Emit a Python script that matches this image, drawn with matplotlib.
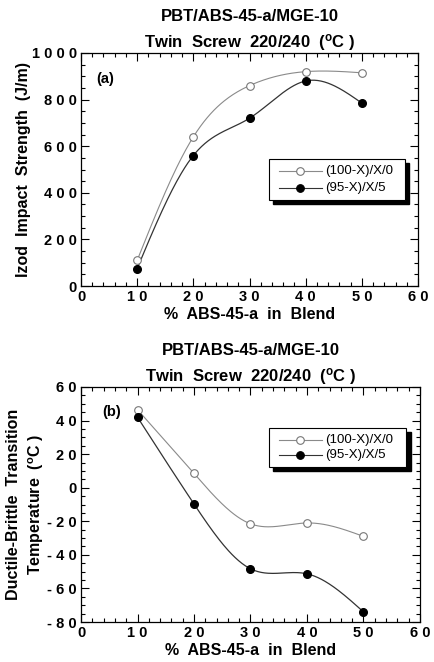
import matplotlib
matplotlib.use("Agg")
import matplotlib.pyplot as plt
import numpy as np
from matplotlib.ticker import MultipleLocator

plt.rcParams["font.family"] = ["Liberation Sans", "DejaVu Sans"]

# data
x = [10, 20, 30, 40, 50]
izod_open = [110, 640, 860, 920, 915]
izod_closed = [75, 560, 720, 880, 785]
dbtt_open = [46.5, 8.5, -21.5, -21, -29]
dbtt_closed = [42, -9.7, -48.3, -51.3, -74]

labels = ["(100-X)/X/0", "(95-X)/X/5"]
title1 = "PBT/ABS-45-a/MGE-10"
title2 = "Twin  Screw  220/240  ($\\mathregular{^o}$C )"


def spaced(v):
    s = str(int(v))
    if s.startswith("-"):
        return "- " + " ".join(s[1:])
    return " ".join(s)


def smooth(xs, ys, n=200):
    # natural cubic spline, only used to draw the connecting curve
    xs = np.asarray(xs, float)
    ys = np.asarray(ys, float)
    k = len(xs)
    h = np.diff(xs)
    A = np.zeros((k, k))
    b = np.zeros(k)
    A[0, 0] = A[-1, -1] = 1
    for i in range(1, k - 1):
        A[i, i - 1] = h[i - 1]
        A[i, i] = 2 * (h[i - 1] + h[i])
        A[i, i + 1] = h[i]
        b[i] = 3 * ((ys[i + 1] - ys[i]) / h[i] - (ys[i] - ys[i - 1]) / h[i - 1])
    c = np.linalg.solve(A, b)
    xx = np.linspace(xs[0], xs[-1], n)
    idx = np.clip(np.searchsorted(xs, xx) - 1, 0, k - 2)
    dx = xx - xs[idx]
    hi = h[idx]
    bb = (ys[idx + 1] - ys[idx]) / hi - hi * (2 * c[idx] + c[idx + 1]) / 3
    dd = (c[idx + 1] - c[idx]) / (3 * hi)
    yy = ys[idx] + bb * dx + c[idx] * dx ** 2 + dd * dx ** 3
    return xx, yy


def draw(ax, y_open, y_closed, ylim, ymaj, ymin, ylabel, labx, tag, tagpos,
         legpos):
    xs, ys = smooth(x, y_open)
    ax.plot(xs, ys, color="#8a8a8a", lw=0.8)
    xs, ys = smooth(x, y_closed)
    ax.plot(xs, ys, color="#333333", lw=0.9)
    ax.plot(x, y_open, "o", ms=5.5, mfc="white", mec="#777777", mew=0.8)
    ax.plot(x, y_closed, "o", ms=5.5, mfc="black", mec="black")

    ax.set_xlim(0, 60)
    ax.set_ylim(*ylim)
    ax.xaxis.set_minor_locator(MultipleLocator(2))
    ax.yaxis.set_minor_locator(MultipleLocator(ymin))
    xt = np.arange(0, 61, 10)
    ax.set_xticks(xt)
    ax.set_xticklabels([spaced(v) for v in xt], fontsize=10.5, fontweight="bold")
    yt = np.arange(ylim[0], ylim[1] + 1, ymaj)
    ax.set_yticks(yt)
    ax.set_yticklabels([spaced(v) for v in yt], fontsize=10.5, fontweight="bold")
    ax.tick_params(which="both", direction="in", top=True, right=True, width=0.8)
    ax.tick_params(which="major", length=6, pad=3)
    ax.tick_params(which="minor", length=3)
    for sp in ax.spines.values():
        sp.set_linewidth(0.9)

    ax.set_xlabel("%  ABS-45-a  in  Blend", fontsize=11.5, fontweight="bold",
                  labelpad=2)
    ax.set_ylabel(ylabel, fontsize=11.5, fontweight="bold", linespacing=1.35,
                  va="center")
    ax.yaxis.set_label_coords(labx, 0.5)
    ax.set_title(title1 + "\n" + title2, fontsize=12, fontweight="bold",
                 linespacing=1.5, pad=4)
    ax.text(tagpos[0], tagpos[1], tag, transform=ax.transAxes, fontsize=10.5,
            fontweight="bold", va="center")

    # legend box with a shadow, as in the original
    lx, ly, lw_, lh = legpos
    ax.add_patch(plt.Rectangle((lx + 0.012, ly - 0.018), lw_, lh,
                               transform=ax.transAxes, fc="black", ec="black",
                               zorder=5, clip_on=False))
    ax.add_patch(plt.Rectangle((lx, ly), lw_, lh, transform=ax.transAxes,
                               fc="white", ec="black", lw=0.8, zorder=6,
                               clip_on=False))
    rows = [(labels[0], "white", "#777777", "#8a8a8a"),
            (labels[1], "black", "black", "#333333")]
    for i, (lab, fc, ec, lc) in enumerate(rows):
        yy = ly + lh * (0.7 - 0.4 * i)
        ax.plot([lx + 0.03, lx + 0.157], [yy, yy], transform=ax.transAxes,
                color=lc, lw=0.8, zorder=7, clip_on=False)
        ax.plot([lx + 0.092], [yy], "o", transform=ax.transAxes, ms=5.5,
                mfc=fc, mec=ec, mew=0.8, zorder=8, clip_on=False)
        ax.text(lx + 0.166, yy, lab, transform=ax.transAxes, fontsize=9.5,
                va="center", zorder=8)


fig = plt.figure(figsize=(4.35, 6.62), dpi=100)
ax1 = fig.add_axes([81 / 435, 1 - 286 / 662, 337 / 435, 233 / 662])
ax2 = fig.add_axes([81 / 435, 1 - 622 / 662, 339 / 435, 235 / 662])

draw(ax1, izod_open, izod_closed, (0, 1000), 200, 50,
     "Izod  Impact  Strength  (J/m)", -0.172, "(a)", (0.045, 0.89),
     (0.558, 0.369, 0.403, 0.176))
draw(ax2, dbtt_open, dbtt_closed, (-80, 60), 20, 5,
     "Ductile-Brittle  Transition\nTemperature  ($\\mathregular{^o}$C )",
     -0.163, "(b)", (0.062, 0.894), (0.555, 0.66, 0.405, 0.166))

fig.savefig("out.png", dpi=100)
